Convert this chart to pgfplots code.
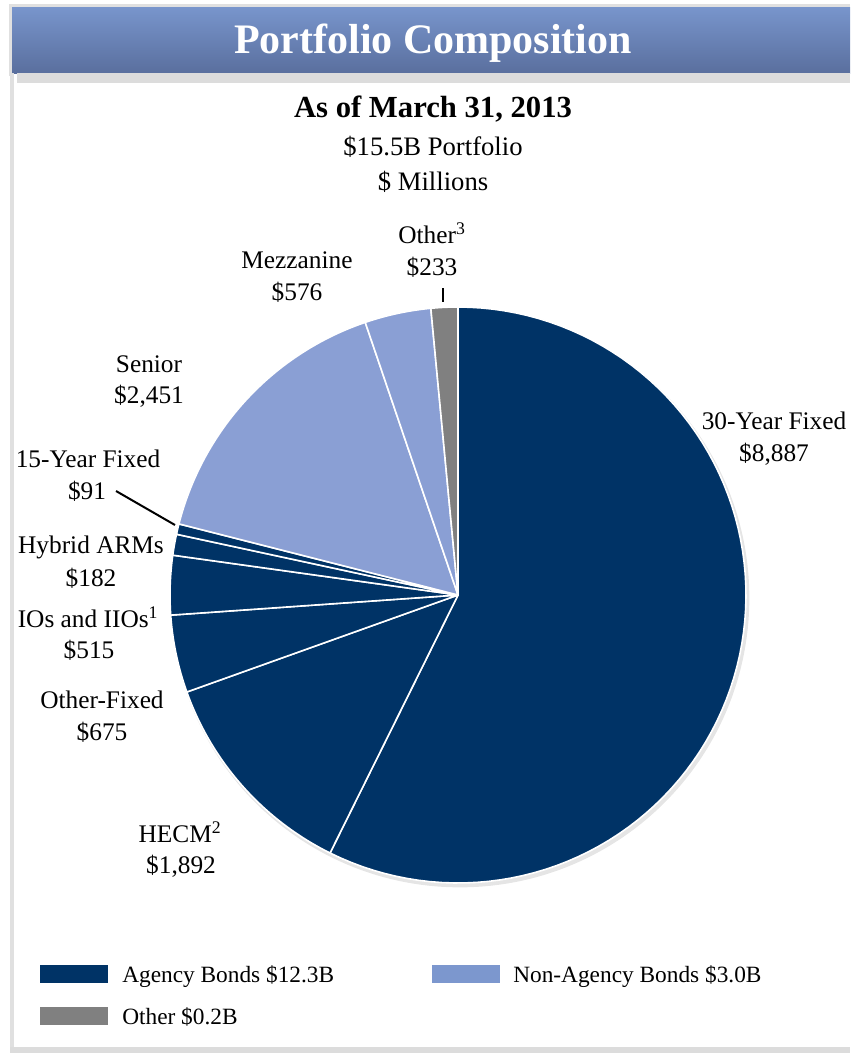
\documentclass[border=0pt]{standalone}
\usepackage{pgfplots}
\usepackage{pgfplotstable}
\pgfplotsset{compat=1.18}
\usepackage{fontspec}
\setmainfont{Liberation Serif}
\definecolor{agency}{HTML}{003366}
\definecolor{nonagency}{HTML}{8A9FD4}
\definecolor{nonagencyleg}{HTML}{7C97CE}
\definecolor{othergray}{HTML}{808080}
\definecolor{bantop}{HTML}{7895CC}
\definecolor{banbot}{HTML}{5A6F9E}
\definecolor{framegray}{HTML}{E0E0E0}
\definecolor{stripgray}{HTML}{DCDCDC}

\pgfplotstableread{
slice value group
30-Year-Fixed 8887 0
HECM 1892 0
Other-Fixed 675 0
IOs-and-IIOs 515 0
Hybrid-ARMs 182 0
15-Year-Fixed 91 0
Senior 2451 1
Mezzanine 576 1
Other 233 2
}\piedata

\pgfmathsetmacro\cum{0}
\pgfplotsforeachungrouped \i in {0,...,8}{%
  \pgfplotstablegetelem{\i}{value}\of\piedata
  \pgfmathsetmacro\cum{\cum+\pgfplotsretval}%
  \expandafter\xdef\csname piecum\i\endcsname{\cum}%
}
\edef\pietotal{\csname piecum8\endcsname}

\newcommand\lbl{\fontsize{19}{23}\selectfont}
\newcommand\sub{\fontsize{20}{24}\selectfont}
\newcommand\leg{\fontsize{17.5}{21}\selectfont}

\begin{document}
\begin{tikzpicture}
\begin{axis}[
  scale only axis, width=637.5pt, height=789.75pt,
  xmin=0, xmax=850, ymin=0, ymax=1053, y dir=reverse,
  hide axis, clip=false]
% background and frame
\fill[white] (axis cs:0,0) rectangle (axis cs:850,1053);
\fill[framegray] (axis cs:9,4) rectangle (axis cs:850,7);
\fill[framegray] (axis cs:9,4) rectangle (axis cs:12,76);
\shade[top color=bantop, bottom color=banbot] (axis cs:12,7) rectangle (axis cs:850,73);
\fill[stripgray] (axis cs:17,73) rectangle (axis cs:850,83);
\fill[framegray] (axis cs:10,73) rectangle (axis cs:14,1050);
\fill[stripgray] (axis cs:10,1047) rectangle (axis cs:850,1053);
% pie shadow
\fill[black, opacity=0.10] (axis cs:460,598) circle[radius=217pt];
% pie slices
\pgfplotsforeachungrouped \i in {0,...,8}{%
  \ifnum\i=0 \def\pa{90}\else
    \pgfmathtruncatemacro\j{\i-1}%
    \pgfmathsetmacro\pa{90-(\csname piecum\j\endcsname/\pietotal)*360}\fi
  \pgfmathsetmacro\pb{90-(\csname piecum\i\endcsname/\pietotal)*360}%
  \pgfplotstablegetelem{\i}{group}\of\piedata
  \edef\pcol{\ifcase\pgfplotsretval agency\or nonagency\else othergray\fi}%
  \edef\pcmd{\noexpand\addplot[fill=\pcol, draw=white, line width=1.2pt, line join=round, domain=\pb:\pa, samples=90, variable=\noexpand\t] ({458+288*cos(\noexpand\t)},{595-288*sin(\noexpand\t)}) -- (axis cs:458,595) -- cycle;}%
  \pcmd
}
% leader lines
\addplot[black, line width=1.5pt] coordinates {(116,491) (175,525)};
\addplot[black, line width=1.5pt] coordinates {(443,288) (443,302)};
% titles
\node[anchor=base, text=white, font=\fontsize{31.5}{36}\selectfont\bfseries] at (axis cs:433,53) {Portfolio Composition};
\node[anchor=base, font=\fontsize{23}{27}\selectfont\bfseries] at (axis cs:433,117) {As of March 31, 2013};
\node[anchor=base, font=\sub] at (433,155) {\$15.5B Portfolio};
\node[anchor=base, font=\sub] at (axis cs:433,190) {\$ Millions};
% labels
\node[anchor=base, font=\lbl] at (axis cs:432,243) {Other\textsuperscript{3}};
\node[anchor=base, font=\lbl] at (axis cs:432,275) {\$233};
\node[anchor=base, font=\lbl] at (axis cs:297,268) {Mezzanine};
\node[anchor=base, font=\lbl] at (axis cs:297,300) {\$576};
\node[anchor=base, font=\lbl] at (axis cs:149,372) {Senior};
\node[anchor=base, font=\lbl] at (axis cs:149,403) {\$2,451};
\node[anchor=base, font=\lbl] at (axis cs:88,467) {15-Year Fixed};
\node[anchor=base, font=\lbl] at (axis cs:87,499) {\$91};
\node[anchor=base, font=\lbl] at (axis cs:91,553) {Hybrid ARMs};
\node[anchor=base, font=\lbl] at (axis cs:91,586) {\$182};
\node[anchor=base, font=\lbl] at (axis cs:88,627) {IOs and IIOs\textsuperscript{1}};
\node[anchor=base, font=\lbl] at (axis cs:89,658) {\$515};
\node[anchor=base, font=\lbl] at (axis cs:102,708) {Other-Fixed};
\node[anchor=base, font=\lbl] at (axis cs:102,740) {\$675};
\node[anchor=base, font=\lbl] at (axis cs:180,842) {HECM\textsuperscript{2}};
\node[anchor=base, font=\lbl] at (axis cs:181,873) {\$1,892};
\node[anchor=base, font=\lbl] at (axis cs:774,429) {30-Year Fixed};
\node[anchor=base, font=\lbl] at (axis cs:774,461) {\$8,887};
% legend
\addplot[fill=agency, draw=none] coordinates {(40,965) (108,965) (108,983) (40,983)} -- cycle;
\addplot[fill=nonagencyleg, draw=none] coordinates {(432,965) (500,965) (500,983) (432,983)} -- cycle;
\addplot[fill=othergray, draw=none] coordinates {(40,1007) (108,1007) (108,1025) (40,1025)} -- cycle;
\node[anchor=base west, font=\leg, inner sep=0pt] at (axis cs:122,982) {Agency Bonds \$12.3B};
\node[anchor=base west, font=\leg, inner sep=0pt] at (axis cs:513,982) {Non-Agency Bonds \$3.0B};
\node[anchor=base west, font=\leg, inner sep=0pt] at (axis cs:122,1024) {Other \$0.2B};
\end{axis}
\end{tikzpicture}
\end{document}
